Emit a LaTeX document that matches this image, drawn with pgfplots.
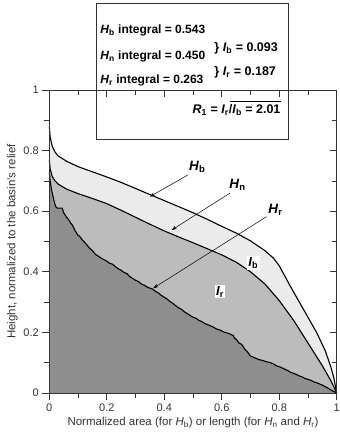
\documentclass[border=0pt]{standalone}
\usepackage{pgfplots}
\pgfplotsset{compat=1.18}
\usepackage{fontspec}
\setmainfont{Liberation Sans}
\usetikzlibrary{arrows.meta}
\definecolor{darkfill}{HTML}{8E8E8E}
\definecolor{midfill}{HTML}{BCBCBC}
\definecolor{lightfill}{HTML}{EBEBEB}
\definecolor{axcol}{HTML}{333333}

\pgfplotstableread{
x y
0 0.88
0.003 0.845
0.01 0.815
0.02 0.795
0.03 0.783
0.06 0.765
0.1 0.747
0.15 0.73
0.2 0.713
0.25 0.695
0.3 0.675
0.35 0.655
0.4 0.635
0.45 0.615
0.5 0.595
0.55 0.573
0.6 0.55
0.65 0.528
0.7 0.502
0.75 0.47
0.78 0.445
0.8 0.42
0.82 0.385
0.84 0.35
0.87 0.3
0.9 0.25
0.93 0.2
0.96 0.14
0.98 0.085
0.99 0.05
1 0
}\Hb

\pgfplotstableread{
x y
0 0.77
0.003 0.74
0.01 0.715
0.02 0.7
0.03 0.69
0.06 0.673
0.1 0.658
0.15 0.642
0.2 0.625
0.25 0.603
0.3 0.58
0.35 0.557
0.4 0.535
0.45 0.515
0.5 0.496
0.55 0.476
0.6 0.456
0.65 0.432
0.7 0.4
0.75 0.36
0.8 0.305
0.85 0.24
0.9 0.165
0.95 0.09
0.98 0.04
1 0
}\Hn

\pgfplotstableread{
x y
0 0.73
0.003 0.70
0.008 0.67
0.015 0.64
0.022 0.615
0.028 0.61
0.045 0.61
0.05 0.595
0.06 0.58
0.065 0.575
0.075 0.56
0.08 0.555
0.09 0.535
0.1 0.52
0.105 0.518
0.115 0.505
0.125 0.495
0.13 0.49
0.14 0.478
0.15 0.47
0.16 0.458
0.17 0.452
0.18 0.445
0.19 0.44
0.2 0.435
0.21 0.428
0.22 0.425
0.23 0.417
0.24 0.41
0.25 0.405
0.26 0.398
0.27 0.394
0.28 0.384
0.29 0.378
0.3 0.372
0.31 0.368
0.32 0.36
0.33 0.356
0.34 0.35
0.35 0.346
0.36 0.343
0.37 0.335
0.38 0.33
0.39 0.322
0.4 0.316
0.41 0.31
0.42 0.302
0.43 0.296
0.44 0.288
0.45 0.281
0.46 0.276
0.47 0.268
0.48 0.262
0.49 0.256
0.5 0.25
0.51 0.247
0.52 0.24
0.53 0.236
0.54 0.23
0.55 0.226
0.56 0.222
0.57 0.218
0.58 0.212
0.59 0.209
0.6 0.205
0.61 0.2
0.62 0.198
0.63 0.194
0.64 0.19
0.645 0.18
0.65 0.178
0.66 0.165
0.67 0.16
0.68 0.145
0.69 0.135
0.7 0.122
0.71 0.118
0.72 0.114
0.73 0.11
0.74 0.108
0.75 0.105
0.76 0.102
0.77 0.1
0.78 0.096
0.79 0.09
0.8 0.087
0.81 0.083
0.82 0.078
0.83 0.074
0.84 0.068
0.85 0.065
0.86 0.061
0.87 0.056
0.88 0.053
0.89 0.048
0.9 0.045
0.91 0.042
0.92 0.037
0.93 0.034
0.94 0.03
0.95 0.026
0.96 0.021
0.97 0.016
0.98 0.01
0.99 0.005
1 0
}\Hr

\begin{document}
\begin{tikzpicture}
\useasboundingbox (-49.3bp,-45bp) rectangle (290.7bp,393bp);
\begin{axis}[
  at={(0,0)}, anchor=south west,
  scale only axis, width=287.4bp, height=303bp,
  xmin=0, xmax=1, ymin=0, ymax=1,
  xtick={0,0.2,0.4,0.6,0.8,1},
  ytick={0,0.2,0.4,0.6,0.8,1},
  minor xtick={0.1,0.3,0.5,0.7,0.9},
  minor ytick={0.1,0.3,0.5,0.7,0.9},
  xtick pos=bottom, ytick pos=left,
  tick align=outside,
  major tick length=7bp, minor tick length=5bp,
  every tick/.style={axcol, line width=0.7bp},
  axis line style={axcol, line width=0.9bp},
  /pgf/number format/assume math mode=true,
  tick label style={font=\fontsize{11bp}{13bp}\selectfont, text=black!80},
  label style={font=\fontsize{11.5bp}{13bp}\selectfont, text=black!80},
  xlabel={Normalized area (for \textit{H}\textsubscript{b}) or length (for \textit{H}\textsubscript{n} and \textit{H}\textsubscript{r})},
  ylabel={Height, normalized to the basin's relief},
  xlabel style={yshift=1bp},
  ylabel style={yshift=-1bp},
  clip=false,
  axis on top,
]
\addplot[draw=none, fill=lightfill] table {\Hb} \closedcycle;
\addplot[draw=none, fill=midfill] table {\Hn} \closedcycle;
\addplot[draw=none, fill=darkfill] table {\Hr} \closedcycle;
\addplot[black, line width=1.1bp] table {\Hb};
\addplot[black, line width=1.1bp] table {\Hn};
\addplot[black, line width=1.1bp] table {\Hr};

% arrows and labels
\draw[-{Stealth[length=5bp,width=3.5bp]}, line width=0.5bp] (axis cs:0.483,0.72) -- (axis cs:0.35,0.648);
\draw[-{Stealth[length=5bp,width=3.5bp]}, line width=0.5bp] (axis cs:0.629,0.66) -- (axis cs:0.426,0.538);
\draw[-{Stealth[length=5bp,width=3.5bp]}, line width=0.5bp] (axis cs:0.756,0.582) -- (axis cs:0.362,0.346);
\node[font=\fontsize{13.5bp}{15bp}\selectfont\bfseries] at (axis cs:0.515,0.746) {\textit{H}\textsubscript{b}};
\node[font=\fontsize{13.5bp}{15bp}\selectfont\bfseries] at (axis cs:0.655,0.686) {\textit{H}\textsubscript{n}};
\node[font=\fontsize{13.5bp}{15bp}\selectfont\bfseries] at (axis cs:0.787,0.604) {\textit{H}\textsubscript{r}};
\node[fill=white, inner sep=1.2bp, font=\fontsize{13bp}{15bp}\selectfont\bfseries] at (axis cs:0.71,0.428) {\textit{I}\textsubscript{b}};
\node[fill=white, inner sep=1.2bp, font=\fontsize{13bp}{15bp}\selectfont\bfseries] at (axis cs:0.594,0.334) {\textit{I}\textsubscript{r}};

% info box
\draw[fill=white, draw=axcol, line width=0.9bp] (axis cs:0.163,0.838) rectangle (axis cs:0.831,1.284);
\begin{scope}[every node/.style={font=\fontsize{12bp}{14bp}\selectfont\bfseries, inner sep=0pt}]
\node[anchor=west] at (axis cs:0.177,1.198) {\textit{H}\textsubscript{b} integral = 0.543};
\node[anchor=west] at (axis cs:0.177,1.110) {\textit{H}\textsubscript{n} integral = 0.450};
\node[anchor=west] at (axis cs:0.177,1.030) {\textit{H}\textsubscript{r} integral = 0.263};
\node[anchor=west, font=\fontsize{12.5bp}{14bp}\selectfont\bfseries] at (axis cs:0.574,1.139) {\}~\textit{I}\textsubscript{b} = 0.093};
\node[anchor=west, font=\fontsize{12.5bp}{14bp}\selectfont\bfseries] at (axis cs:0.574,1.059) {\}~\textit{I}\textsubscript{r} = 0.187};
\node[anchor=east, font=\fontsize{12.5bp}{14bp}\selectfont\bfseries] at (axis cs:0.805,0.934) {\textit{R}\textsubscript{1} = \textit{I}\textsubscript{r}/\textit{I}\textsubscript{b} = 2.01};
\end{scope}
\draw[line width=0.8bp] (axis cs:0.629,0.962) -- (axis cs:0.805,0.962);
\end{axis}
\begin{axis}[
  at={(0,0)}, anchor=south west,
  scale only axis, width=287.4bp, height=303bp,
  xmin=0, xmax=1, ymin=0, ymax=1,
  xtick={0,0.2,0.4,0.6,0.8,1},
  ytick={0,0.2,0.4,0.6,0.8,1},
  minor xtick={0.1,0.3,0.5,0.7,0.9},
  minor ytick={0.1,0.3,0.5,0.7,0.9},
  xtick pos=top, ytick pos=right,
  tick align=inside,
  xticklabels={}, yticklabels={},
  major tick length=7bp, minor tick length=5bp,
  every tick/.style={axcol, line width=0.7bp},
  axis line style={draw=none},
]
\end{axis}
\end{tikzpicture}
\end{document}
